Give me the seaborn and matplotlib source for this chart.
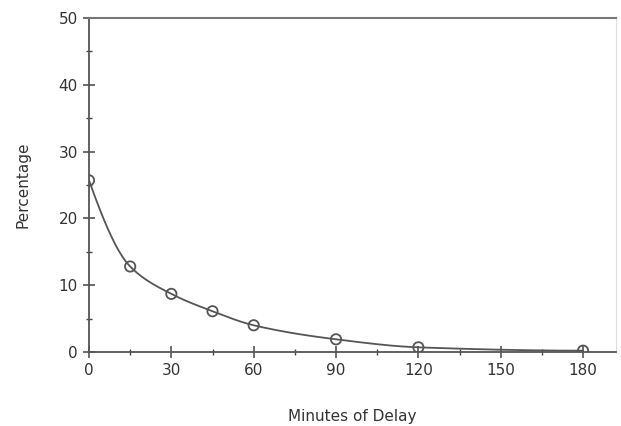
import numpy as np
import pandas as pd
import matplotlib
matplotlib.use("Agg")
import matplotlib.pyplot as plt
import seaborn as sns

minutes = [0, 15, 30, 45, 60, 90, 120, 180]
percentage = [25.7, 12.8, 8.7, 6.1, 4.0, 1.9, 0.7, 0.2]
x_ticks = [0, 30, 60, 90, 120, 150, 180]
y_ticks = [0, 10, 20, 30, 40, 50]

sns.set_theme(style="white")
plt.rcParams['font.family'] = ['DejaVu Sans']

df = pd.DataFrame({"Minutes of Delay": minutes, "Percentage": percentage})

fig = plt.figure(figsize=(6.21, 4.26), dpi=100)
ax = fig.add_axes([89/621, 1-352/426, (616-89)/621, (352-18)/426])

# smooth monotone (PCHIP) rendering of the line through the data points
def pchip(x, y, xs):
    x = np.asarray(x, float); y = np.asarray(y, float)
    h = np.diff(x); d = np.diff(y) / h
    n = len(x); m = np.zeros(n)
    for k in range(1, n - 1):
        if d[k-1] * d[k] > 0:
            w1 = 2*h[k] + h[k-1]; w2 = h[k] + 2*h[k-1]
            m[k] = (w1 + w2) / (w1/d[k-1] + w2/d[k])
    m[0] = ((2*h[0] + h[1])*d[0] - h[0]*d[1]) / (h[0] + h[1])
    if np.sign(m[0]) != np.sign(d[0]): m[0] = 0
    m[-1] = ((2*h[-1] + h[-2])*d[-1] - h[-1]*d[-2]) / (h[-1] + h[-2])
    if np.sign(m[-1]) != np.sign(d[-1]): m[-1] = 0
    out = np.empty_like(xs)
    for i, xv in enumerate(xs):
        k = min(np.searchsorted(x, xv, side='right') - 1, n - 2)
        t = (xv - x[k]) / h[k]
        h00 = 2*t**3 - 3*t**2 + 1; h10 = t**3 - 2*t**2 + t
        h01 = -2*t**3 + 3*t**2; h11 = t**3 - t**2
        out[i] = h00*y[k] + h10*h[k]*m[k] + h01*y[k+1] + h11*h[k]*m[k+1]
    return out

xs = np.linspace(min(minutes), max(minutes), 400)
ax.plot(xs, pchip(minutes, percentage, xs), color="#555555", lw=1.3, zorder=2)
sns.scatterplot(data=df, x="Minutes of Delay", y="Percentage", ax=ax,
                marker="o", s=55, facecolor="none", edgecolor="#555555",
                linewidth=1.3, zorder=3)

ax.set_xlim(0, 192)
ax.set_ylim(0, 50)
ax.set_xticks(x_ticks)
ax.set_yticks(y_ticks)
ax.set_xticks(np.arange(15, 192, 30), minor=True)
ax.set_yticks(np.arange(5, 50, 10), minor=True)
ax.tick_params(axis='both', which='major', direction='inout', length=8, width=1.1,
               color="#444444", labelsize=11, labelcolor="#333333", pad=4)
ax.tick_params(axis='both', which='minor', direction='inout', length=5, width=1.0,
               color="#444444")
ax.tick_params(bottom=True, left=True, which='both')
for s in ["left", "bottom"]:
    ax.spines[s].set_color("#555555"); ax.spines[s].set_linewidth(1.3)
ax.spines["top"].set_color("#777777"); ax.spines["top"].set_linewidth(1.5)
ax.spines["right"].set_color("#dddddd"); ax.spines["right"].set_linewidth(0.8)

ax.set_xlabel("Minutes of Delay", fontsize=11, color="#333333", labelpad=22)
ax.set_ylabel("Percentage", fontsize=11, color="#333333", labelpad=20)

fig.savefig("out.png", dpi=100)
